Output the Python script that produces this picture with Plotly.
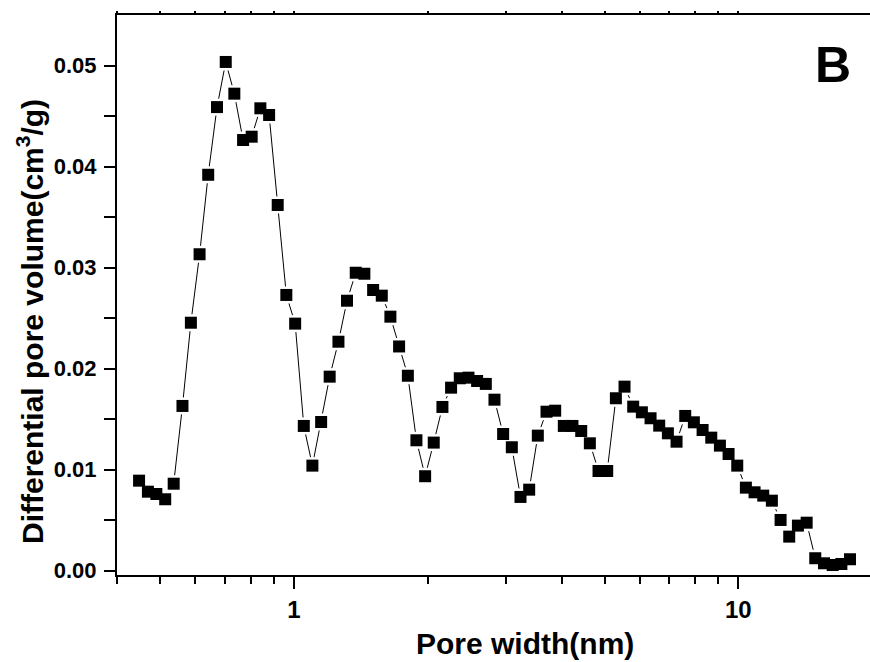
import plotly.graph_objects as go

# Pore size distribution (DFT), differential pore volume vs pore width
pore_width_nm = [
    0.448, 0.469, 0.490, 0.513, 0.536, 0.561, 0.586, 0.613, 0.641, 0.671,
    0.702, 0.734, 0.768, 0.803, 0.840, 0.879, 0.919, 0.961, 1.006, 1.052,
    1.100, 1.151, 1.203, 1.259, 1.316, 1.377, 1.440, 1.507, 1.576, 1.648,
    1.724, 1.804, 1.886, 1.973, 2.063, 2.158, 2.257, 2.361, 2.470, 2.583,
    2.702, 2.826, 2.956, 3.092, 3.234, 3.383, 3.538, 3.701, 3.871, 4.048,
    4.234, 4.430, 4.633, 4.846, 5.069, 5.302, 5.545, 5.800, 6.067, 6.346,
    6.637, 6.942, 7.261, 7.595, 7.943, 8.310, 8.692, 9.091, 9.508, 9.945,
    10.40, 10.88, 11.38, 11.90, 12.45, 13.02, 13.62, 14.25, 14.90, 15.59,
    16.31, 17.06, 17.84,
]
diff_pore_volume = [
    0.00891, 0.00782, 0.00759, 0.00707, 0.00861, 0.01631, 0.02455, 0.03133, 0.03920, 0.04590,
    0.05037, 0.04723, 0.04264, 0.04297, 0.04578, 0.04512, 0.03621, 0.02730, 0.02446, 0.01433,
    0.01040, 0.01472, 0.01921, 0.02267, 0.02673, 0.02950, 0.02940, 0.02779, 0.02723, 0.02515,
    0.02220, 0.01930, 0.01291, 0.00935, 0.01268, 0.01621, 0.01812, 0.01905, 0.01911, 0.01878,
    0.01849, 0.01693, 0.01353, 0.01222, 0.00730, 0.00802, 0.01337, 0.01574, 0.01584, 0.01433,
    0.01433, 0.01383, 0.01261, 0.00987, 0.00987, 0.01707, 0.01822, 0.01624, 0.01568, 0.01509,
    0.01436, 0.01360, 0.01277, 0.01532, 0.01469, 0.01393, 0.01317, 0.01238, 0.01155, 0.01040,
    0.00822, 0.00776, 0.00743, 0.00693, 0.00502, 0.00337, 0.00446, 0.00475, 0.00123, 0.00073,
    0.00056, 0.00066, 0.00113,
]

x_major_ticks = [1, 10]
x_minor_ticks = [0.4, 0.5, 0.6, 0.7, 0.8, 0.9, 2, 3, 4, 5, 6, 7, 8, 9, 20]
y_major_ticks = [0.00, 0.01, 0.02, 0.03, 0.04, 0.05]
y_minor_ticks = [0.005, 0.015, 0.025, 0.035, 0.045]

FONT = "Liberation Sans, Arial, sans-serif"
X_RANGE = [-0.3984, 1.2964]   # log10 of pore width
Y_RANGE = [-0.00043, 0.05502]

fig = go.Figure()

# connecting line
fig.add_trace(go.Scatter(
    x=pore_width_nm, y=diff_pore_volume, mode="lines",
    line=dict(color="black", width=1), hoverinfo="skip", showlegend=False,
))
# white halo so the line stops just short of each symbol
fig.add_trace(go.Scatter(
    x=pore_width_nm, y=diff_pore_volume, mode="markers",
    marker=dict(symbol="square", size=17, color="white", line=dict(width=0)),
    hoverinfo="skip", showlegend=False,
))
# filled square symbols
fig.add_trace(go.Scatter(
    x=pore_width_nm, y=diff_pore_volume, mode="markers",
    marker=dict(symbol="square", size=12, color="black", line=dict(width=0)),
    showlegend=False,
))
# carrier for the top frame axis
fig.add_trace(go.Scatter(
    x=[1], y=[0], xaxis="x2", mode="markers",
    marker=dict(opacity=0), hoverinfo="skip", showlegend=False,
))

fig.update_layout(
    width=870, height=662,
    margin=dict(l=117, r=0, t=15, b=87),
    paper_bgcolor="white", plot_bgcolor="white",
    font=dict(family=FONT, color="black"),
    xaxis=dict(
        type="log", range=X_RANGE,
        showline=True, linecolor="black", linewidth=2,
        showgrid=False, zeroline=False,
        tickmode="array", tickvals=x_major_ticks, ticktext=["1", "10"],
        ticks="outside", ticklen=12, tickwidth=2, tickcolor="black",
        tickfont=dict(family=FONT, size=24, color="black", weight="bold"),
        minor=dict(tickmode="array", tickvals=x_minor_ticks, ticks="outside",
                   ticklen=7, tickwidth=2, tickcolor="black", showgrid=False),
    ),
    xaxis2=dict(
        type="log", range=X_RANGE, overlaying="x", side="top", anchor="y",
        showline=True, linecolor="black", linewidth=2,
        showgrid=False, zeroline=False, showticklabels=False,
        tickmode="array", tickvals=x_major_ticks,
        ticks="outside", ticklen=2, tickwidth=1.5, tickcolor="black",
        minor=dict(tickmode="array", tickvals=x_minor_ticks, ticks="outside",
                   ticklen=2, tickwidth=1.5, tickcolor="black", showgrid=False),
    ),
    yaxis=dict(
        range=Y_RANGE,
        showline=True, linecolor="black", linewidth=2,
        showgrid=False, zeroline=False,
        tickmode="array", tickvals=y_major_ticks, tickformat=".2f",
        ticks="outside", ticklen=11, tickwidth=2, tickcolor="black",
        tickfont=dict(family=FONT, size=22, color="black", weight="bold"),
        ticklabelstandoff=3,
        minor=dict(tickmode="array", tickvals=y_minor_ticks, ticks="outside",
                   ticklen=11, tickwidth=2, tickcolor="black", showgrid=False),
    ),
    annotations=[
        dict(text="Pore width(nm)", xref="paper", yref="paper",
             x=(525 - 117) / 753, y=(575 - 643) / 560,
             xanchor="center", yanchor="middle", showarrow=False,
             font=dict(family=FONT, size=30, color="black", weight="bold")),
        dict(text="Differential pore volume(cm<sup>3</sup>/g)", xref="paper", yref="paper",
             x=(30 - 117) / 753, y=(575 - 322) / 560, textangle=-90,
             xanchor="center", yanchor="middle", showarrow=False,
             font=dict(family=FONT, size=30, color="black", weight="bold")),
        dict(text="B", xref="paper", yref="paper",
             x=(833 - 117) / 753, y=(575 - 65) / 560,
             xanchor="center", yanchor="middle", showarrow=False,
             font=dict(family=FONT, size=50, color="black", weight="bold")),
    ],
)

fig.write_html("out.html")
